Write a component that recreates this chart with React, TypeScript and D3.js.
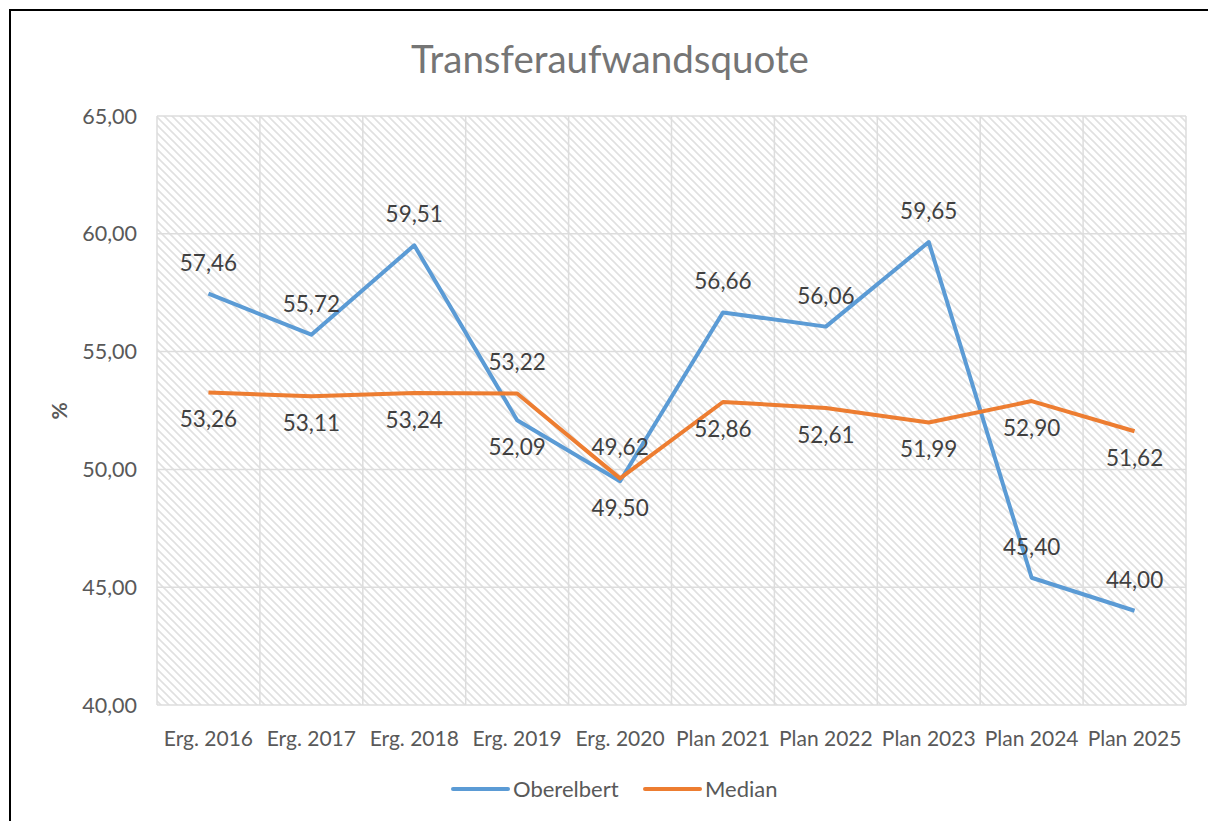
import { useEffect, useRef } from 'react';
import * as d3 from 'd3';

const categories = [
  'Erg. 2016', 'Erg. 2017', 'Erg. 2018', 'Erg. 2019', 'Erg. 2020',
  'Plan 2021', 'Plan 2022', 'Plan 2023', 'Plan 2024', 'Plan 2025',
];
const oberelbert = [57.46, 55.72, 59.51, 52.09, 49.5, 56.66, 56.06, 59.65, 45.4, 44.0];
const median = [53.26, 53.11, 53.24, 53.22, 49.62, 52.86, 52.61, 51.99, 52.9, 51.62];
// where each data label sits relative to its point
const oberelbertLabelPos = ['a', 'a', 'a', 'b', 'b', 'a', 'a', 'a', 'a', 'a'];
const medianLabelPos = ['b', 'b', 'b', 'a', 'a', 'b', 'b', 'b', 'b', 'b'];
const yTicks = [40, 45, 50, 55, 60, 65];

const WIDTH = 1208;
const HEIGHT = 821;
const FONT = 'Lato, "Noto Sans", sans-serif';

export default function App() {
  const svgRef = useRef<SVGSVGElement>(null);

  useEffect(() => {
    if (!svgRef.current) return;
    const svg = d3.select(svgRef.current);
    svg.selectAll('*').remove();

    const plot = { left: 157, right: 1186, top: 116, bottom: 705 };

    const x = d3.scaleBand().domain(categories).range([plot.left, plot.right]);
    const y = d3.scaleLinear().domain([40, 65]).range([plot.bottom, plot.top]);
    const fmt = (v: number) => v.toFixed(2).replace('.', ',');

    // outer chart border
    svg.append('rect')
      .attr('x', 10).attr('y', 10)
      .attr('width', WIDTH).attr('height', HEIGHT)
      .attr('fill', '#fff')
      .attr('stroke', '#000')
      .attr('stroke-width', 2);

    // hatch pattern
    const pattern = svg.append('defs').append('pattern')
      .attr('id', 'hatch')
      .attr('patternUnits', 'userSpaceOnUse')
      .attr('width', 8).attr('height', 8);
    pattern.append('path')
      .attr('d', 'M0,0 L8,8 M6,-2 L10,2 M-2,6 L2,10')
      .attr('stroke', '#e0e0e0')
      .attr('stroke-width', 1.6);

    svg.append('rect')
      .attr('x', plot.left).attr('y', plot.top)
      .attr('width', plot.right - plot.left)
      .attr('height', plot.bottom - plot.top)
      .attr('fill', 'url(#hatch)');

    // gridlines
    const grid = svg.append('g').attr('stroke', '#dddddd').attr('stroke-width', 1.5);
    yTicks.forEach((t) => {
      grid.append('line')
        .attr('x1', plot.left).attr('x2', plot.right)
        .attr('y1', y(t)).attr('y2', y(t));
    });
    categories.forEach((c) => {
      grid.append('line')
        .attr('x1', x(c)!).attr('x2', x(c)!)
        .attr('y1', plot.top).attr('y2', plot.bottom);
    });
    grid.append('line')
      .attr('x1', plot.right).attr('x2', plot.right)
      .attr('y1', plot.top).attr('y2', plot.bottom);

    // y tick labels
    svg.append('g')
      .selectAll('text')
      .data(yTicks)
      .join('text')
      .attr('x', 137)
      .attr('y', (d) => y(d))
      .attr('dy', '0.35em')
      .attr('text-anchor', 'end')
      .attr('font-family', FONT)
      .attr('font-size', 21.5)
      .attr('fill', '#595959')
      .text((d) => fmt(d));

    // x tick labels
    svg.append('g')
      .selectAll('text')
      .data(categories)
      .join('text')
      .attr('x', (d) => x(d)! + x.bandwidth() / 2)
      .attr('y', 746)
      .attr('text-anchor', 'middle')
      .attr('font-family', FONT)
      .attr('font-size', 21)
      .attr('fill', '#595959')
      .text((d) => d);

    // y axis title
    svg.append('text')
      .attr('transform', 'translate(67,411) rotate(-90)')
      .attr('text-anchor', 'middle')
      .attr('font-family', FONT)
      .attr('font-size', 21)
      .attr('font-weight', 'bold')
      .attr('fill', '#595959')
      .text('%');

    // title
    svg.append('text')
      .attr('x', 610)
      .attr('y', 73)
      .attr('text-anchor', 'middle')
      .attr('font-family', FONT)
      .attr('font-size', 38.5)
      .attr('fill', '#757575')
      .text('Transferaufwandsquote');

    const series = [
      { name: 'Oberelbert', values: oberelbert, pos: oberelbertLabelPos, color: '#5B9BD5' },
      { name: 'Median', values: median, pos: medianLabelPos, color: '#ED7D31' },
    ];

    const line = d3.line<number>()
      .x((_, i) => x(categories[i])! + x.bandwidth() / 2)
      .y((d) => y(d));

    series.forEach((s) => {
      svg.append('path')
        .datum(s.values)
        .attr('d', line)
        .attr('fill', 'none')
        .attr('stroke', s.color)
        .attr('stroke-width', 4)
        .attr('stroke-linejoin', 'round');
    });

    series.forEach((s) => {
      svg.append('g')
        .selectAll('text')
        .data(s.values)
        .join('text')
        .attr('x', (_, i) => x(categories[i])! + x.bandwidth() / 2)
        .attr('y', (d, i) => y(d) + (s.pos[i] === 'a' ? -31 : 27))
        .attr('dy', '0.35em')
        .attr('text-anchor', 'middle')
        .attr('font-family', FONT)
        .attr('font-size', 22.5)
        .attr('fill', '#404040')
        .text((d) => fmt(d));
    });

    // legend
    const legend = svg.append('g').attr('transform', 'translate(0,789)');
    const legendX = [453, 645];
    series.forEach((s, i) => {
      legend.append('line')
        .attr('x1', legendX[i]).attr('x2', legendX[i] + 55)
        .attr('y1', 0).attr('y2', 0)
        .attr('stroke', s.color)
        .attr('stroke-width', 4)
        .attr('stroke-linecap', 'round');
      legend.append('text')
        .attr('x', legendX[i] + 60)
        .attr('y', 0)
        .attr('dy', '0.35em')
        .attr('font-family', FONT)
        .attr('font-size', 22)
        .attr('fill', '#595959')
        .text(s.name);
    });
  }, []);

  return (
    <svg
      ref={svgRef}
      width={WIDTH}
      height={HEIGHT}
      style={{ position: 'absolute', left: 0, top: 0 }}
    />
  );
}
